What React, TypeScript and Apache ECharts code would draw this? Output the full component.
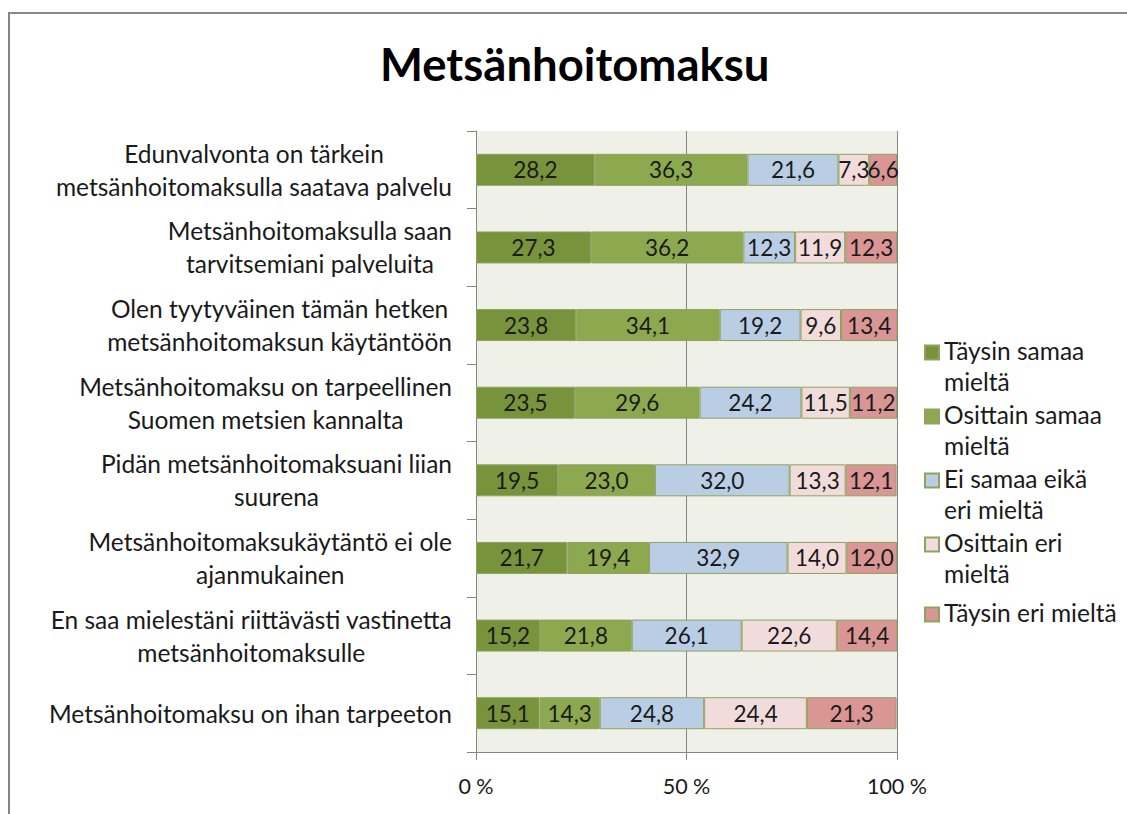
import React, { useEffect, useRef } from "react";
import * as echarts from "echarts";

const categories = [
  "Edunvalvonta on tärkein\nmetsänhoitomaksulla saatava palvelu",
  "Metsänhoitomaksulla saan\ntarvitsemiani palveluita",
  "Olen tyytyväinen tämän hetken\nmetsänhoitomaksun käytäntöön",
  "Metsänhoitomaksu on tarpeellinen\nSuomen metsien kannalta",
  "Pidän metsänhoitomaksuani liian\nsuurena",
  "Metsänhoitomaksukäytäntö ei ole\najanmukainen",
  "En saa mielestäni riittävästi vastinetta\nmetsänhoitomaksulle",
  "Metsänhoitomaksu on ihan tarpeeton",
];

const seriesNames = [
  "Täysin samaa mieltä",
  "Osittain samaa mieltä",
  "Ei samaa eikä eri mieltä",
  "Osittain eri mieltä",
  "Täysin eri mieltä",
];
const legendLabels = [
  "Täysin samaa\nmieltä",
  "Osittain samaa\nmieltä",
  "Ei samaa eikä\neri mieltä",
  "Osittain eri\nmieltä",
  "Täysin eri mieltä",
];

const taysinSamaa = [28.2, 27.3, 23.8, 23.5, 19.5, 21.7, 15.2, 15.1];
const osittainSamaa = [36.3, 36.2, 34.1, 29.6, 23.0, 19.4, 21.8, 14.3];
const eiSamaaEika = [21.6, 12.3, 19.2, 24.2, 32.0, 32.9, 26.1, 24.8];
const osittainEri = [7.3, 11.9, 9.6, 11.5, 13.3, 14.0, 22.6, 24.4];
const taysinEri = [6.6, 12.3, 13.4, 11.2, 12.1, 12.0, 14.4, 21.3];

const xTicks = [0, 50, 100];

const colors = ["#77933C", "#8DA94F", "#B9CDE5", "#F2DCDB", "#D99694"];
const FONT = "Lato, 'Noto Sans', sans-serif";

export default function App() {
  const ref = useRef<HTMLDivElement>(null);
  useEffect(() => {
    if (!ref.current) return;
    const chart = echarts.init(ref.current, null, { renderer: "svg" });
    const allData = [taysinSamaa, osittainSamaa, eiSamaaEika, osittainEri, taysinEri];
    const twoLineIcon = "path://M0,0h14v14h-14Z M0,41";
    const oneLineIcon = "path://M0,0 M0,15.5h14v14h-14Z M0,41";
    const option: any = {
      animation: false,
      backgroundColor: "#ffffff",
      title: {
        text: "Metsänhoitomaksu",
        left: 380,
        top: 40,
        padding: 0,
        textStyle: { fontFamily: FONT, fontSize: 45.5, fontWeight: "bold", color: "#000000" },
      },
      graphic: [
        {
          type: "rect",
          shape: { x: 9, y: 13, width: 1200, height: 900 },
          style: { fill: "none", stroke: "#878787", lineWidth: 2 },
          silent: true,
        },
      ],
      legend: {
        orient: "vertical",
        left: 924,
        top: 335,
        padding: 0,
        itemGap: 2,
        itemWidth: 14,
        itemHeight: 41,
        data: seriesNames.map((n, i) => ({ name: n, icon: i === 4 ? oneLineIcon : twoLineIcon })),
        formatter: (name: string) => legendLabels[seriesNames.indexOf(name)],
        textStyle: { fontFamily: FONT, fontSize: 24.5, lineHeight: 31, color: "#1a1a1a" },
      },
      grid: {
        left: 476,
        right: 230,
        top: 131,
        bottom: 62,
        show: true,
        backgroundColor: "#EFF1E9",
        borderWidth: 0,
      },
      xAxis: {
        type: "value",
        min: 0,
        max: 100,
        interval: 50,
        axisLine: { show: true, lineStyle: { color: "#868686", width: 1 } },
        axisTick: { show: true, length: 8, lineStyle: { color: "#868686" } },
        splitLine: { show: true, lineStyle: { color: "#868686", width: 1 } },
        axisLabel: {
          margin: 23,
          fontFamily: FONT,
          fontSize: 21.5,
          color: "#1a1a1a",
          formatter: (v: number) => (xTicks.includes(v) ? `${v} %` : ""),
        },
      },
      yAxis: {
        type: "category",
        inverse: true,
        data: categories,
        axisLine: { show: true, lineStyle: { color: "#868686", width: 1 } },
        axisTick: { show: true, length: 9, lineStyle: { color: "#868686" } },
        axisLabel: {
          margin: 24,
          align: "right",
          formatter: (v: string) =>
            v
              .split("\n")
              .map((l) => `{c|${l}}`)
              .join("\n"),
          rich: {
            c: { align: "center", fontFamily: FONT, fontSize: 24.5, lineHeight: 33, color: "#1a1a1a" },
          },
        },
      },
      series: seriesNames.map((name, i) => ({
        name,
        type: "bar",
        stack: "total",
        barWidth: 32,
        data: allData[i],
        itemStyle: { color: colors[i], borderColor: "#8FA35E", borderWidth: 1 },
        label: {
          show: true,
          position: "inside",
          fontFamily: FONT,
          fontSize: 22.5,
          color: "#1a1a1a",
          formatter: (p: any) => p.value.toFixed(1).replace(".", ","),
        },
      })),
    };
    chart.setOption(option);
    return () => chart.dispose();
  }, []);
  return (
    <div
      ref={ref}
      style={{ position: "fixed", left: 0, top: 0, width: 1127, height: 814 }}
    />
  );
}
